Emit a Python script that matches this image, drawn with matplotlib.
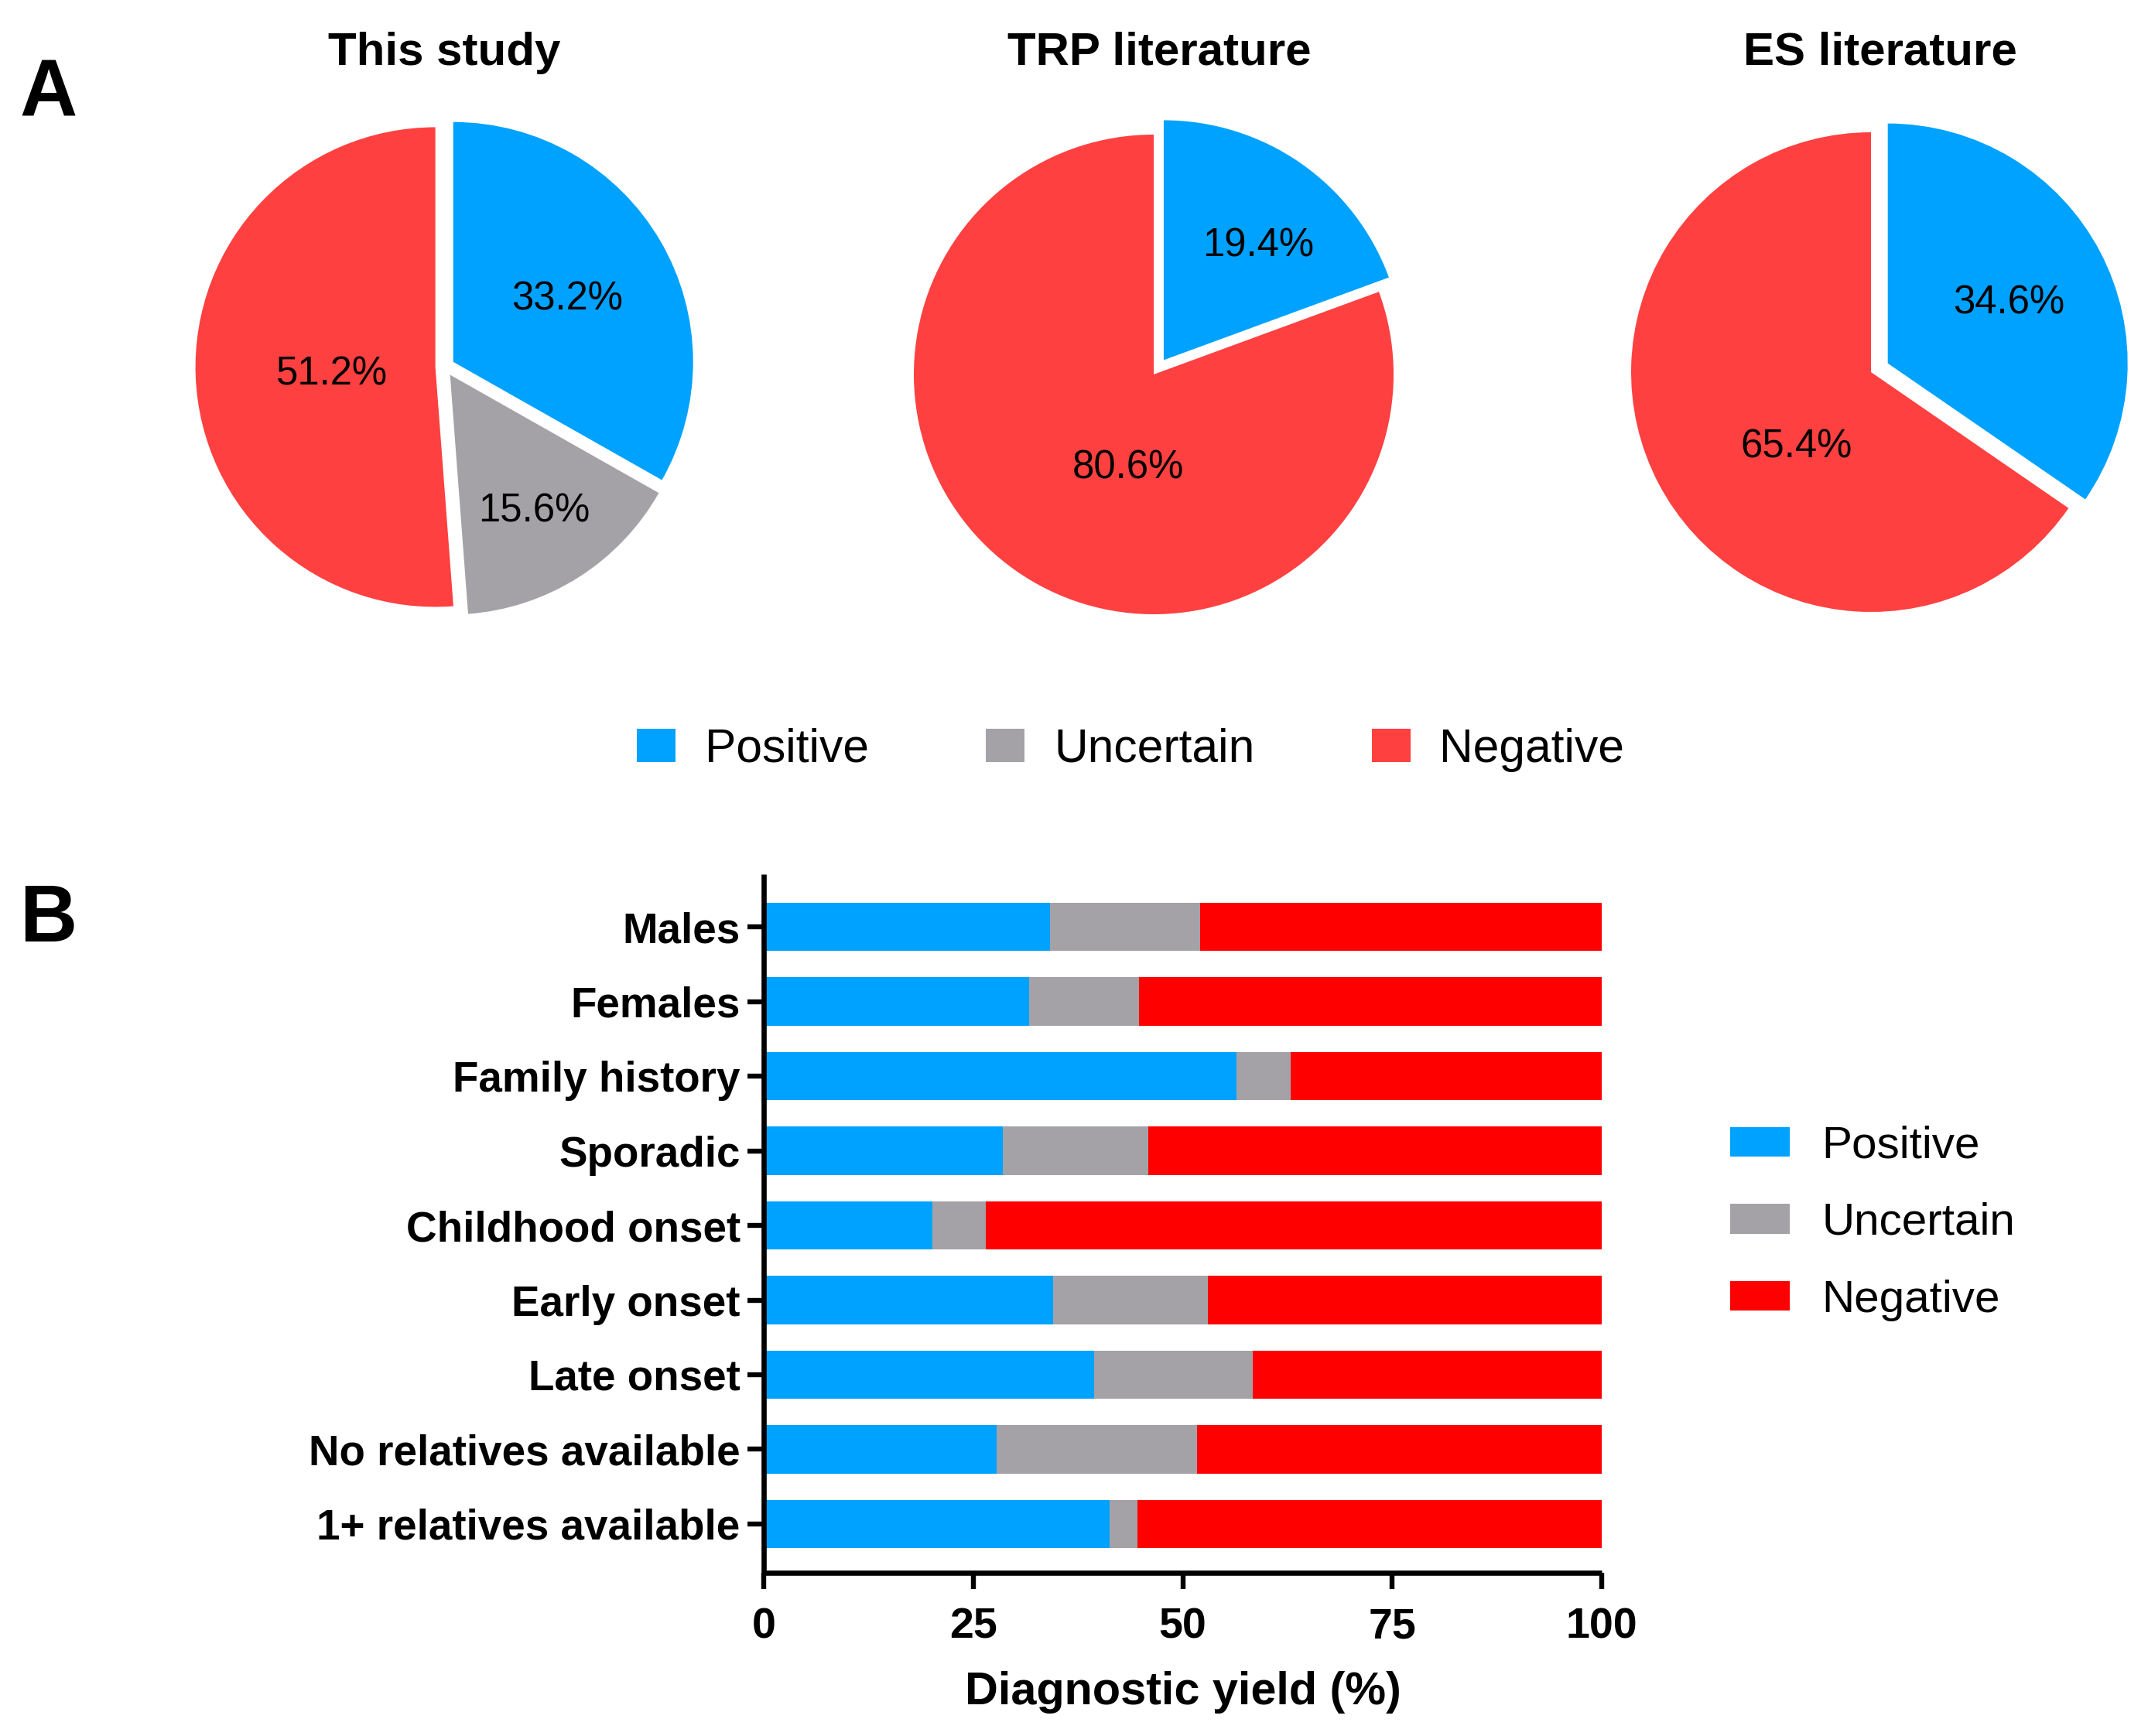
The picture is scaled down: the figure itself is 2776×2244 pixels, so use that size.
import matplotlib
matplotlib.use("Agg")
import matplotlib.pyplot as plt
import numpy as np
from matplotlib.patches import Patch

plt.rcParams['font.family'] = ['Liberation Sans', 'DejaVu Sans']

# ---------------- data ----------------
status = ["Positive", "Uncertain", "Negative"]
this_study = [33.2, 15.6, 51.2]
trp_lit = [19.4, 80.6]
es_lit = [34.6, 65.4]
pie_titles = ["This study", "TRP literature", "ES literature"]

groups = ["Males", "Females", "Family history", "Sporadic", "Childhood onset",
          "Early onset", "Late onset", "No relatives available", "1+ relatives available"]
positive = [34.2, 31.7, 56.4, 28.5, 20.1, 34.5, 39.4, 27.8, 41.3]
uncertain = [17.9, 13.1, 6.5, 17.4, 6.4, 18.5, 19.0, 23.9, 3.3]
negative = [47.9, 55.2, 37.1, 54.1, 73.5, 47.0, 41.6, 48.3, 55.4]
xticks = [0, 25, 50, 75, 100]

# ---------------- style ----------------
BLUE = "#00A2FF"
GRAY = "#A4A2A7"
PIE_RED = "#FF4040"
BAR_RED = "#FF0000"

W, H = 2776, 2244
DPI = 200
fig = plt.figure(figsize=(W / DPI, H / DPI), dpi=DPI)

R = 310.0
HALF = 1.15 * R


def pie_axes(cx, cy):
    ax = fig.add_axes([(cx - HALF) / W, 1 - (cy + HALF) / H, 2 * HALF / W, 2 * HALF / H])
    return ax


pie_specs = [
    dict(vals=this_study, colors=[BLUE, GRAY, PIE_RED], explode=[0.04, 0.04, 0.04],
         center=(575, 474), lab=[(0.55, 0), (0.655, 0), (0.43, 0)], tx=574),
    dict(vals=trp_lit, colors=[BLUE, PIE_RED], explode=[0.073, 0.0],
         center=(1491, 484), lab=[(0.63, -4), (0.39, 19)], tx=1498),
    dict(vals=es_lit, colors=[BLUE, PIE_RED], explode=[0.079, 0.0],
         center=(2418, 481), lab=[(0.57, 0), (0.43, 16)], tx=2430),
]

for spec, title in zip(pie_specs, pie_titles):
    ax = pie_axes(*spec["center"])
    wedges, texts, autotexts = ax.pie(
        spec["vals"], colors=spec["colors"], explode=spec["explode"],
        startangle=90, counterclock=False, radius=1,
        autopct='%.1f%%', wedgeprops=dict(linewidth=0),
        textprops=dict(fontsize=18.3, color='black'))
    for w, t, (d, off) in zip(wedges, autotexts, spec["lab"]):
        th = np.deg2rad((w.theta1 + w.theta2) / 2 + off)
        cx, cy = w.center
        t.set_position((cx + d * np.cos(th), cy + d * np.sin(th) - 0.015))
        t.set_ha('center')
        t.set_va('center')
    ax.set_xlim(-1.15, 1.15)
    ax.set_ylim(-1.15, 1.15)
    ax.set_aspect('equal')
    ax.axis('off')
    fig.text(spec["tx"] / W, 1 - 84 / H, title, ha='center', va='baseline',
             fontsize=21.6, fontweight='bold')

# top legend
top_handles = [Patch(facecolor=c, edgecolor='none') for c in [BLUE, GRAY, PIE_RED]]
fig.legend(top_handles, status, loc='center left',
           bbox_to_anchor=(823 / W, 1 - 969 / H), ncol=3, frameon=False,
           fontsize=21.8, handlelength=0.83, handleheight=0.70,
           handletextpad=0.62, columnspacing=2.5, borderpad=0, borderaxespad=0)

# ---------------- bar chart ----------------
x0, x1 = 987, 2070
ytop, ybot = 1130, 2033
axb = fig.add_axes([x0 / W, 1 - ybot / H, (x1 - x0) / W, (ybot - ytop) / H])
y = np.arange(len(groups))
pos = np.array(positive)
unc = np.array(uncertain)
neg = np.array(negative)
axb.barh(y, pos, height=0.65, color=BLUE, linewidth=0)
axb.barh(y, unc, left=pos, height=0.65, color=GRAY, linewidth=0)
axb.barh(y, neg, left=pos + unc, height=0.65, color=BAR_RED, linewidth=0)

axb.set_xlim(0, 100)
axb.set_ylim(8.653, -0.705)
axb.set_yticks(y)
axb.set_yticklabels(groups, fontsize=19.7, fontweight='bold')
axb.set_xticks(xticks)
axb.set_xticklabels([str(v) for v in xticks], fontsize=20, fontweight='bold')
for s in ['top', 'right']:
    axb.spines[s].set_visible(False)
for s in ['left', 'bottom']:
    axb.spines[s].set_linewidth(2.4)
    axb.spines[s].set_capstyle('butt')
axb.tick_params(axis='both', length=7.5, width=2.3, color='black')
axb.tick_params(axis='y', pad=3.4)
axb.tick_params(axis='x', pad=8.5)
axb.set_xlabel("Diagnostic yield (%)", fontsize=21.4, fontweight='bold', labelpad=11)

right_handles = [Patch(facecolor=c, edgecolor='none') for c in [BLUE, GRAY, BAR_RED]]
fig.legend(right_handles, status, loc='center left',
           bbox_to_anchor=(2235.7 / W, 1 - 1581 / H), ncol=1, frameon=False,
           fontsize=21, handlelength=1.32, handleheight=0.65,
           handletextpad=0.72, labelspacing=0.78, borderpad=0, borderaxespad=0)

# panel letters
fig.text(25 / W, 1 - 150 / H, "A", fontsize=37, fontweight='bold', ha='left', va='baseline')
fig.text(25 / W, 1 - 1217 / H, "B", fontsize=37, fontweight='bold', ha='left', va='baseline')

fig.savefig("out.png", dpi=DPI, facecolor='white')
